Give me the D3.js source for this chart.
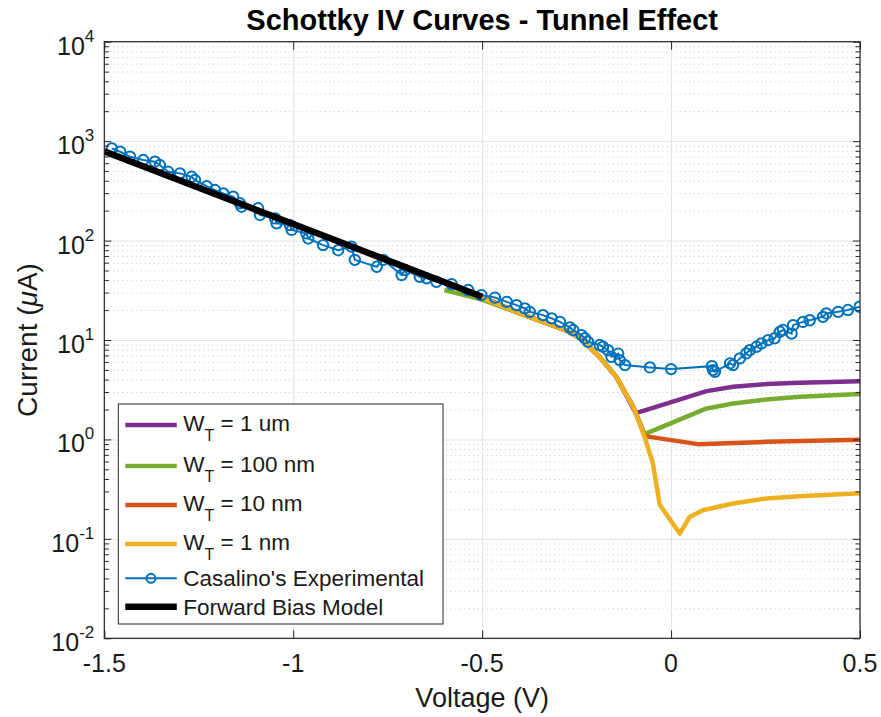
<!DOCTYPE html>
<html>
<head>
<meta charset="utf-8">
<script src="https://cdn.jsdelivr.net/npm/d3@7"></script>
<style>
  body { margin: 0; background: #fff; }
  text { font-family: "Liberation Sans", Arial, Helvetica, sans-serif; fill: #1a1a1a; }
</style>
</head>
<body>
<script>
// ---- data ----
const xTicks = [-1.5, -1, -0.5, 0, 0.5]
const xTickLabels = ['-1.5', '-1', '-0.5', '0', '0.5']
const yDecades = [-2, -1, 0, 1, 2, 3, 4]

// W_T = 1 um
const wt1umV = [-0.5, -0.4, -0.28, -0.24, -0.19, -0.145, -0.093, 0.094, 0.164, 0.252, 0.341, 0.5]
const wt1umI = [27, 18.5, 12.6, 10.4, 6.8, 4.26, 1.84, 3.06, 3.38, 3.6, 3.71, 3.85]
// W_T = 100 nm
const wt100nmV = [-0.6, -0.5, -0.4, -0.28, -0.24, -0.19, -0.145, -0.1, -0.07, 0.094, 0.164, 0.252, 0.341, 0.5]
const wt100nmI = [31.8, 25.5, 18.5, 12.6, 10.4, 6.8, 4.26, 2.13, 1.13, 2.05, 2.3, 2.52, 2.68, 2.86]
// W_T = 10 nm
const wt10nmV = [-0.5, -0.4, -0.28, -0.24, -0.19, -0.145, -0.1, -0.07, 0.071, 0.252, 0.5]
const wt10nmI = [27, 18.5, 12.6, 10.4, 6.8, 4.26, 2.13, 1.08, 0.897, 0.946, 0.995]
// W_T = 1 nm
const wt1nmV = [-0.5, -0.4, -0.28, -0.24, -0.19, -0.145, -0.1, -0.07, -0.048, -0.03, 0.023, 0.049, 0.084, 0.164, 0.252, 0.34, 0.5]
const wt1nmI = [26.5, 18.5, 12.6, 10.4, 6.8, 4.26, 2.13, 1.06, 0.57, 0.22, 0.113, 0.166, 0.194, 0.227, 0.255, 0.269, 0.288]

// Casalino's experimental
const expV = [-1.48, -1.458, -1.432, -1.397, -1.366, -1.353, -1.331, -1.3, -1.269, -1.26,
  -1.229, -1.207, -1.185, -1.159, -1.141, -1.137, -1.093, -1.088, -1.048, -1.044,
  -1.009, -1.004, -0.965, -0.96, -0.921, -0.881, -0.846, -0.837, -0.779, -0.762,
  -0.713, -0.704, -0.665, -0.647, -0.621, -0.581, -0.537, -0.502, -0.466, -0.435,
  -0.409, -0.387, -0.374, -0.339, -0.316, -0.294, -0.268, -0.259, -0.237, -0.228,
  -0.22, -0.189, -0.18, -0.167, -0.158, -0.14, -0.136, -0.122, -0.056, 0.0,
  0.108, 0.111, 0.116, 0.156, 0.164, 0.182, 0.199, 0.208, 0.226, 0.239,
  0.257, 0.274, 0.288, 0.296, 0.319, 0.323, 0.349, 0.367, 0.402, 0.411,
  0.442, 0.468, 0.499]
const expI = [846, 782, 697, 645, 621, 575, 492, 474, 438, 406,
  353, 322, 298, 276, 237, 219, 211, 181, 167, 149,
  143, 128, 118, 105, 90, 80, 87, 64, 54.5, 64,
  45, 50.5, 43.2, 41.7, 38.5, 36.5, 31.8, 28.3, 26.7, 24.2,
  22.4, 20.8, 19.2, 17.8, 16.5, 15.2, 13.4, 12.6, 11.2, 10.4,
  9.6, 8.9, 8.55, 7.9, 6.78, 7.3, 6.28, 5.59, 5.3, 5.1,
  5.46, 4.98, 4.79, 5.82, 5.59, 6.53, 7.33, 7.9, 8.55, 9.24,
  9.98, 10.4, 12.1, 12.6, 11.6, 14.1, 15.2, 15.8, 17.1, 18.5,
  19.2, 20.0, 21.6]

// forward bias model
const fwdV = [-1.5, -1.25, -1.0, -0.75, -0.5]
const fwdI = [790, 340, 146.6, 63.2, 27.2]

const legendLabels = ['1 um', '100 nm', '10 nm', '1 nm']

// ---- layout ----
const width = 881, height = 717
const margin = { left: 104.3, top: 41.7, right: 21, bottom: 78.7 }
const innerWidth = width - margin.left - margin.right
const innerHeight = height - margin.top - margin.bottom
const axisColor = '#262626'

const svg = d3.select('body').append('svg').attr('width', width).attr('height', height)

const xScale = d3.scaleLinear().domain([-1.5, 0.5]).range([0, innerWidth])
const yScale = d3.scaleLog().domain([1e-2, 1e4]).range([innerHeight, 0])

const majorY = yDecades.map(d => Math.pow(10, d))
const minorY = []
yDecades.slice(0, -1).forEach(d => {
  for (let k = 2; k <= 9; k++) minorY.push(k * Math.pow(10, d))
})

const chart = svg.append('g').attr('transform', `translate(${margin.left},${margin.top})`)

chart.append('rect').attr('width', innerWidth).attr('height', innerHeight).attr('fill', '#fff')

// grid: minor dotted (y only), then major solid
chart.append('g')
  .call(d3.axisLeft(yScale).tickValues(minorY).tickSize(-innerWidth).tickFormat(''))
  .call(g => g.select('.domain').remove())
  .selectAll('line')
  .attr('stroke', '#c8c8c8')
  .attr('stroke-dasharray', '1,3.5')

chart.append('g')
  .call(d3.axisLeft(yScale).tickValues(majorY).tickSize(-innerWidth).tickFormat(''))
  .call(g => g.select('.domain').remove())
  .selectAll('line')
  .attr('stroke', '#e2e2e2')

chart.append('g')
  .attr('transform', `translate(0,${innerHeight})`)
  .call(d3.axisBottom(xScale).tickValues(xTicks).tickSize(-innerHeight).tickFormat(''))
  .call(g => g.select('.domain').remove())
  .selectAll('line')
  .attr('stroke', '#e2e2e2')

// curves
const line = d3.line()
  .x(d => xScale(d[0]))
  .y(d => yScale(d[1]))

svg.append('clipPath').attr('id', 'plotClip')
  .append('rect').attr('width', innerWidth).attr('height', innerHeight)

const plot = chart.append('g').attr('clip-path', 'url(#plotClip)')

const models = [
  { v: wt1umV, i: wt1umI, color: '#7E2F8E' },
  { v: wt100nmV, i: wt100nmI, color: '#77AC30' },
  { v: wt10nmV, i: wt10nmI, color: '#D95319' },
  { v: wt1nmV, i: wt1nmI, color: '#EDB120' }
]

models.forEach(m => {
  plot.append('path')
    .datum(d3.zip(m.v, m.i))
    .attr('d', line)
    .attr('fill', 'none')
    .attr('stroke', m.color)
    .attr('stroke-width', 4.5)
    .attr('stroke-linejoin', 'round')
})

const expData = d3.zip(expV, expI)
plot.append('path')
  .datum(expData)
  .attr('d', line)
  .attr('fill', 'none')
  .attr('stroke', '#0072BD')
  .attr('stroke-width', 2)

plot.selectAll('.dot')
  .data(expData)
  .join('circle')
  .attr('class', 'dot')
  .attr('cx', d => xScale(d[0]))
  .attr('cy', d => yScale(d[1]))
  .attr('r', 5.2)
  .attr('fill', 'none')
  .attr('stroke', '#0072BD')
  .attr('stroke-width', 2)

plot.append('path')
  .datum(d3.zip(fwdV, fwdI))
  .attr('d', line)
  .attr('fill', 'none')
  .attr('stroke', '#000')
  .attr('stroke-width', 6.5)

// axes box with inward ticks
function styleAxis(g) {
  g.select('.domain').remove()
  g.selectAll('line').attr('stroke', axisColor)
}
chart.append('g').call(d3.axisLeft(yScale).tickValues(majorY).tickSize(-7).tickFormat('')).call(styleAxis)
chart.append('g').call(d3.axisLeft(yScale).tickValues(minorY).tickSize(-4.5).tickFormat('')).call(styleAxis)
chart.append('g').attr('transform', `translate(${innerWidth},0)`)
  .call(d3.axisRight(yScale).tickValues(majorY).tickSize(-7).tickFormat('')).call(styleAxis)
chart.append('g').attr('transform', `translate(${innerWidth},0)`)
  .call(d3.axisRight(yScale).tickValues(minorY).tickSize(-4.5).tickFormat('')).call(styleAxis)
chart.append('g').attr('transform', `translate(0,${innerHeight})`)
  .call(d3.axisBottom(xScale).tickValues(xTicks).tickSize(-8).tickFormat('')).call(styleAxis)
chart.append('g')
  .call(d3.axisTop(xScale).tickValues(xTicks).tickSize(-8).tickFormat('')).call(styleAxis)

chart.append('rect')
  .attr('width', innerWidth).attr('height', innerHeight)
  .attr('fill', 'none').attr('stroke', axisColor).attr('stroke-width', 1.2)

// tick labels
chart.append('g').selectAll('text')
  .data(xTicks)
  .join('text')
  .attr('x', d => xScale(d))
  .attr('y', innerHeight + 34)
  .attr('text-anchor', 'middle')
  .style('font-size', '25px')
  .text((d, i) => xTickLabels[i])

const yLab = chart.append('g').selectAll('text')
  .data(yDecades)
  .join('text')
  .attr('x', -10)
  .attr('y', d => yScale(Math.pow(10, d)) + 13)
  .attr('text-anchor', 'end')
  .style('font-size', '25px')
yLab.append('tspan').text('10')
yLab.append('tspan').attr('dy', -13).style('font-size', '17px').text(d => d)

// title and axis labels
svg.append('text')
  .attr('x', margin.left + innerWidth / 2)
  .attr('y', 30)
  .attr('text-anchor', 'middle')
  .style('font-size', '29px')
  .style('font-weight', 'bold')
  .style('fill', '#000')
  .text('Schottky IV Curves - Tunnel Effect')

svg.append('text')
  .attr('x', margin.left + innerWidth / 2)
  .attr('y', 707)
  .attr('text-anchor', 'middle')
  .style('font-size', '27px')
  .text('Voltage (V)')

const yTitle = svg.append('text')
  .attr('transform', `translate(37,${margin.top + innerHeight / 2}) rotate(-90)`)
  .attr('text-anchor', 'middle')
  .style('font-size', '28px')
yTitle.append('tspan').text('Current (')
yTitle.append('tspan').style('font-style', 'italic').text('\u03bc')
yTitle.append('tspan').text('A)')

// legend
const legend = svg.append('g').attr('transform', 'translate(118.3,404)')
legend.append('rect')
  .attr('width', 324.7).attr('height', 220)
  .attr('fill', '#fff').attr('stroke', axisColor).attr('stroke-width', 1)

const rowY = [21, 62, 101, 140, 174.3, 202.7]
const legendItems = models.map((m, k) => ({ color: m.color, width: 4.5, label: legendLabels[k], sub: true }))
legendItems.push({ color: '#0072BD', width: 2, label: "Casalino's Experimental", marker: true })
legendItems.push({ color: '#000', width: 6.5, label: 'Forward Bias Model' })

legendItems.forEach((item, k) => {
  const row = legend.append('g').attr('transform', `translate(0,${rowY[k]})`)
  row.append('line')
    .attr('x1', 7).attr('x2', 58.5)
    .attr('stroke', item.color).attr('stroke-width', item.width)
  if (item.marker) {
    row.append('circle').attr('cx', 32.7).attr('r', 4.5)
      .attr('fill', 'none').attr('stroke', item.color).attr('stroke-width', 2)
  }
  const t = row.append('text')
    .attr('x', 65)
    .attr('y', item.sub ? 6 : 8)
    .style('font-size', '22.5px')
  if (item.sub) {
    t.append('tspan').text('W')
    t.append('tspan').attr('dy', 10).style('font-size', '16px').text('T')
    t.append('tspan').attr('dy', -10).text(' = ' + item.label)
  } else {
    t.text(item.label)
  }
})
</script>
</body>
</html>
